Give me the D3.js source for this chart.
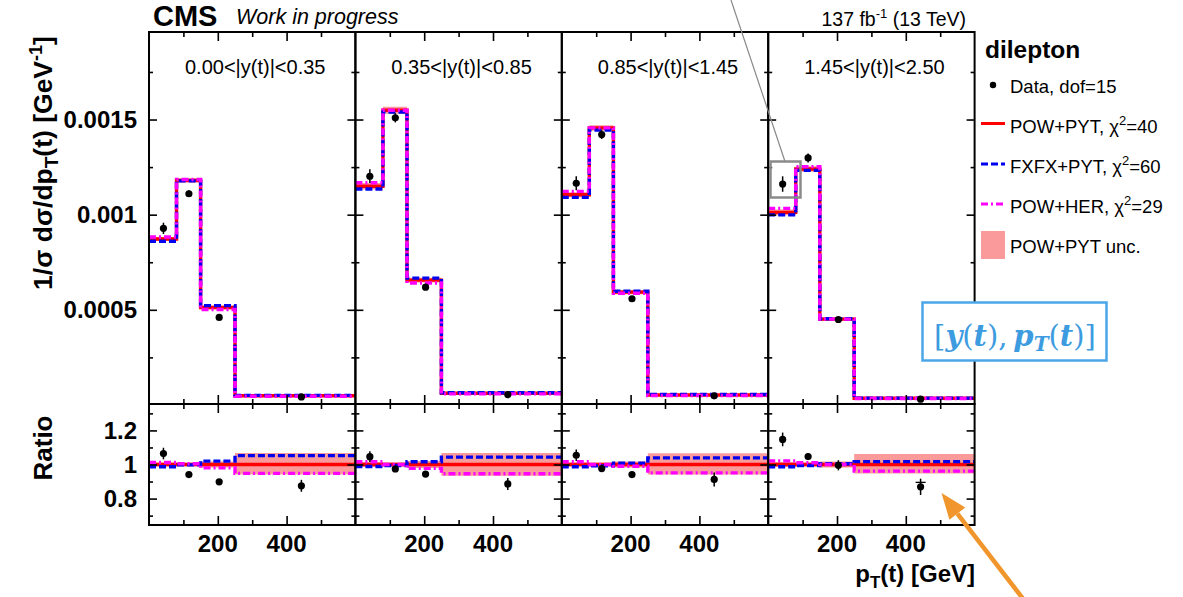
<!DOCTYPE html>
<html>
<head>
<meta charset="utf-8">
<script src="https://cdn.jsdelivr.net/npm/d3@7"></script>
<style>
  body { margin: 0; background: #fff; }
  svg { display: block; }
</style>
</head>
<body>
<svg id="chart" width="1183" height="597"></svg>
<script>
// --- Data ---
const binEdges = [0, 80, 150, 250, 600];
const dataPt = [42, 116, 204, 443];
const rapidityBins = ["0.00<|y(t)|<0.35", "0.35<|y(t)|<0.85", "0.85<|y(t)|<1.45", "1.45<|y(t)|<2.50"];

// POW+PYT prediction, 1/sigma dsigma/dpT [GeV^-1]
const powPyt = [
  [0.000872, 0.00118, 0.000512, 0.000048],
  [0.001149, 0.001549, 0.000656, 0.0000614],
  [0.001105, 0.001456, 0.000593, 0.0000526],
  [0.001012, 0.00124, 0.000451, 0.0000351]
];
// FXFX+PYT / POW+PYT
const fxfxRatio = [
  [0.987, 0.998, 1.02, 1.052],
  [0.988, 0.994, 1.016, 1.043],
  [0.987, 0.992, 1.008, 1.039],
  [0.987, 0.994, 1.004, 1.017]
];
// POW+HER / POW+PYT
const herRatio = [
  [1.012, 1.004, 0.98, 0.948],
  [1.016, 1.0, 0.977, 0.946],
  [1.016, 1.0, 0.99, 0.951],
  [1.021, 1.01, 1.0, 0.961]
];
// POW+PYT relative uncertainty (up / down)
const uncUp = [
  [0.012, 0.01, 0.018, 0.068],
  [0.015, 0.012, 0.02, 0.068],
  [0.012, 0.01, 0.018, 0.066],
  [0.015, 0.012, 0.018, 0.062]
];
const uncDown = [
  [0.012, 0.01, 0.018, 0.058],
  [0.015, 0.012, 0.02, 0.066],
  [0.012, 0.01, 0.018, 0.058],
  [0.015, 0.012, 0.018, 0.053]
];
// measured values and relative errors
const dataVals = [
  [0.000928, 0.00111, 0.00046, 0.000042],
  [0.001202, 0.001509, 0.000619, 0.0000544],
  [0.001165, 0.001421, 0.000558, 0.000048],
  [0.001161, 0.001298, 0.000449, 0.0000305]
];
const dataErr = [
  [0.032, 0.016, 0.015, 0.04],
  [0.03, 0.016, 0.015, 0.04],
  [0.032, 0.016, 0.015, 0.045],
  [0.035, 0.018, 0.03, 0.055]
];

const mainTicks = [0.0005, 0.001, 0.0015];
const mainMinor = [0.00025, 0.00075, 0.00125, 0.00175];
const ratioTicks = [0.8, 1, 1.2];
const ratioMinor = [0.7, 0.9, 1.1, 1.3];
const xTicks = [200, 400];
const xMinor = [100, 300, 500];

const legendItems = [
  { key: "data", label: "Data, dof=15" },
  { key: "pow", label: "POW+PYT, ", chi: "40" },
  { key: "fxfx", label: "FXFX+PYT, ", chi: "60" },
  { key: "her", label: "POW+HER, ", chi: "29" },
  { key: "unc", label: "POW+PYT unc." }
];

// --- Style ---
const FONT = "'Liberation Sans', Arial, Helvetica, sans-serif";
const RED = "#ff0000", BLUE = "#0000f0", MAG = "#ff00ff", BAND = "#fa9a9a";
const LW = 3.4;

const left0 = 149, pw = 206.4, topY = 32, midY = 404, botY = 525;
const hMain = midY - topY, hRatio = botY - midY;

const svg = d3.select("#chart");

const x = d3.scaleLinear().domain([0, 600]).range([0, pw]);
const yMain = d3.scaleLinear().domain([0.000005, 0.00196]).range([hMain, 0]);
const yRatio = d3.scaleLinear().domain([0.645, 1.355]).range([hRatio, 0]);

function stepPts(vals) {
  return binEdges.map((e, i) => [e, vals[Math.min(i, vals.length - 1)]]);
}

function drawTicks(g, w, h, xs, ys, ticksY, minorY) {
  // inward ticks on all four sides
  const tk = (axis, tr, vals, size) => {
    const a = g.append("g").attr("transform", tr)
      .call(axis.tickValues(vals).tickSizeInner(size).tickSizeOuter(0).tickFormat(""));
    a.select(".domain").remove();
    a.selectAll("line").attr("stroke", "#000").attr("stroke-width", 1.6);
  };
  tk(d3.axisBottom(xs), `translate(0,${h})`, xTicks, -9);
  tk(d3.axisBottom(xs), `translate(0,${h})`, xMinor, -5);
  tk(d3.axisTop(xs), "translate(0,0)", xTicks, -9);
  tk(d3.axisTop(xs), "translate(0,0)", xMinor, -5);
  tk(d3.axisLeft(ys), "translate(0,0)", ticksY, -8);
  tk(d3.axisLeft(ys), "translate(0,0)", minorY, -4);
  tk(d3.axisRight(ys), `translate(${w},0)`, ticksY, -8);
  tk(d3.axisRight(ys), `translate(${w},0)`, minorY, -4);
}

function drawCurves(g, ys, pow, fx, her, up, dn) {
  const line = d3.line().x(d => x(d[0])).y(d => ys(d[1])).curve(d3.curveStepAfter);
  const area = d3.area().x(d => x(d[0])).y0(d => ys(d[1])).y1(d => ys(d[2])).curve(d3.curveStepAfter);
  const bandPts = binEdges.map((e, i) => {
    const k = Math.min(i, pow.length - 1);
    return [e, pow[k] * (1 - dn[k]), pow[k] * (1 + up[k])];
  });
  g.append("path").attr("d", area(bandPts)).attr("fill", BAND).attr("stroke", "none");
  g.append("path").attr("d", line(stepPts(pow))).attr("fill", "none")
    .attr("stroke", RED).attr("stroke-width", LW);
  g.append("path").attr("d", line(stepPts(fx))).attr("fill", "none")
    .attr("stroke", BLUE).attr("stroke-width", LW).attr("stroke-dasharray", "7,3");
  g.append("path").attr("d", line(stepPts(her))).attr("fill", "none")
    .attr("stroke", MAG).attr("stroke-width", LW).attr("stroke-dasharray", "7,3,2,3");
}

function drawData(g, ys, vals, errs, capIdx) {
  vals.forEach((v, i) => {
    const cx = x(dataPt[i]), cy = ys(v);
    g.append("line").attr("x1", cx).attr("x2", cx)
      .attr("y1", ys(v * (1 - errs[i]))).attr("y2", ys(v * (1 + errs[i])))
      .attr("stroke", "#000").attr("stroke-width", 1.5);
    g.append("circle").attr("cx", cx).attr("cy", cy).attr("r", 3.6).attr("fill", "#000");
    if (capIdx === i) {
      const cy2 = ys(v * (1 + errs[i] * 0.55));
      g.append("line").attr("x1", cx - 5).attr("x2", cx + 5).attr("y1", cy2).attr("y2", cy2)
        .attr("stroke", "#000").attr("stroke-width", 1.3);
    }
  });
}

rapidityBins.forEach((label, p) => {
  const x0 = left0 + p * pw;
  const pow = powPyt[p];
  const fx = pow.map((v, i) => v * fxfxRatio[p][i]);
  const her = pow.map((v, i) => v * herRatio[p][i]);
  const ones = pow.map(() => 1);

  // main panel
  const gm = svg.append("g").attr("transform", `translate(${x0},${topY})`);
  drawCurves(gm, yMain, pow, fx, her, uncUp[p], uncDown[p]);
  drawData(gm, yMain, dataVals[p], dataErr[p], -1);
  drawTicks(gm, pw, hMain, x, yMain, mainTicks, mainMinor);
  gm.append("rect").attr("width", pw).attr("height", hMain)
    .attr("fill", "none").attr("stroke", "#000").attr("stroke-width", 2);
  gm.append("text").attr("x", pw / 2 + 3).attr("y", 73.5 - topY)
    .attr("text-anchor", "middle").attr("font-family", FONT).attr("font-size", 20)
    .text(label);

  // ratio panel
  const gr = svg.append("g").attr("transform", `translate(${x0},${midY})`);
  drawCurves(gr, yRatio, ones, fxfxRatio[p], herRatio[p], uncUp[p], uncDown[p]);
  const rData = dataVals[p].map((v, i) => v / pow[i]);
  drawData(gr, yRatio, rData, dataErr[p], p === 3 ? 3 : -1);
  drawTicks(gr, pw, hRatio, x, yRatio, ratioTicks, ratioMinor);
  gr.append("rect").attr("width", pw).attr("height", hRatio)
    .attr("fill", "none").attr("stroke", "#000").attr("stroke-width", 2);

  // x tick labels
  gr.selectAll("text.xl").data(xTicks).enter().append("text")
    .attr("x", d => x(d)).attr("y", 552 - midY)
    .attr("text-anchor", "middle").attr("font-family", FONT)
    .attr("font-weight", "bold").attr("font-size", 24).text(d => d);
});

// y tick labels
svg.append("g").selectAll("text").data(mainTicks).enter().append("text")
  .attr("x", 137).attr("y", d => topY + yMain(d)).attr("dy", "0.35em")
  .attr("text-anchor", "end").attr("font-family", FONT)
  .attr("font-weight", "bold").attr("font-size", 24).text(d => String(d));
svg.append("g").selectAll("text").data(ratioTicks).enter().append("text")
  .attr("x", 137).attr("y", d => midY + yRatio(d)).attr("dy", "0.35em")
  .attr("text-anchor", "end").attr("font-family", FONT)
  .attr("font-weight", "bold").attr("font-size", 24).text(d => String(d));

// axis titles
const yt = svg.append("text").attr("transform", "translate(52,163) rotate(-90)")
  .attr("text-anchor", "middle").attr("font-family", FONT)
  .attr("font-weight", "bold").attr("font-size", 26.5);
yt.append("tspan").text("1/\u03c3 d\u03c3/dp");
yt.append("tspan").attr("dy", 6).attr("font-size", 19).text("T");
yt.append("tspan").attr("dy", -6).text("(t) [GeV");
yt.append("tspan").attr("dy", -10).attr("font-size", 18).text("-1");
yt.append("tspan").attr("dy", 10).text("]");

svg.append("text").attr("transform", "translate(52,448) rotate(-90)")
  .attr("text-anchor", "middle").attr("font-family", FONT)
  .attr("font-weight", "bold").attr("font-size", 26).text("Ratio");

const xt = svg.append("text").attr("x", 975).attr("y", 582)
  .attr("text-anchor", "end").attr("font-family", FONT)
  .attr("font-weight", "bold").attr("font-size", 24);
xt.append("tspan").text("p");
xt.append("tspan").attr("dy", 6).attr("font-size", 17).text("T");
xt.append("tspan").attr("dy", -6).text("(t) [GeV]");

// header
svg.append("text").attr("x", 153).attr("y", 26).attr("font-family", FONT)
  .attr("font-weight", "bold").attr("font-size", 29).text("CMS");
svg.append("text").attr("x", 236).attr("y", 24).attr("font-family", FONT)
  .attr("font-style", "italic").attr("font-size", 21.5).text("Work in progress");
const lumi = svg.append("text").attr("x", 966).attr("y", 26).attr("text-anchor", "end")
  .attr("font-family", FONT).attr("font-size", 19.5);
lumi.append("tspan").text("137 fb");
lumi.append("tspan").attr("dy", -8).attr("font-size", 13).text("-1");
lumi.append("tspan").attr("dy", 8).text(" (13 TeV)");

// legend
svg.append("text").attr("x", 985).attr("y", 58).attr("font-family", FONT)
  .attr("font-weight", "bold").attr("font-size", 24.5).text("dilepton");
const legY = [92.5, 132.5, 173, 213, 253];
legendItems.forEach((item, i) => {
  const yb = legY[i];
  const ym = yb - 9;
  if (item.key === "data") {
    svg.append("circle").attr("cx", 993).attr("cy", 85).attr("r", 3.2).attr("fill", "#000");
  } else if (item.key === "unc") {
    svg.append("rect").attr("x", 981).attr("y", 231).attr("width", 24).attr("height", 28).attr("fill", BAND);
  } else {
    const col = { pow: RED, fxfx: BLUE, her: MAG }[item.key];
    const dash = { pow: null, fxfx: "7,3", her: "7,3,2,3" }[item.key];
    svg.append("line").attr("x1", 981).attr("x2", 1005).attr("y1", ym).attr("y2", ym)
      .attr("stroke", col).attr("stroke-width", 3).attr("stroke-dasharray", dash);
  }
  const t = svg.append("text").attr("x", 1010).attr("y", yb).attr("font-family", FONT).attr("font-size", 18.5);
  t.append("tspan").text(item.label);
  if (item.chi) {
    t.append("tspan").text("\u03c7");
    t.append("tspan").attr("dy", -8).attr("font-size", 13).text("2");
    t.append("tspan").attr("dy", 8).text("=" + item.chi);
  }
});

// annotations: grey zoom box + pointer line
svg.append("line").attr("x1", 731).attr("y1", 0).attr("x2", 785).attr("y2", 161.5)
  .attr("stroke", "#888").attr("stroke-width", 1.2);
svg.append("rect").attr("x", 770.5).attr("y", 161.5).attr("width", 30).attr("height", 36)
  .attr("fill", "none").attr("stroke", "#8a8a8a").attr("stroke-width", 2.5);

// blue label box
svg.append("rect").attr("x", 922.5).attr("y", 302.5).attr("width", 184).attr("height", 58)
  .attr("fill", "#fff").attr("stroke", "#4aa6e8").attr("stroke-width", 2.5);
const lab = svg.append("text").attr("x", 1015).attr("y", 346).attr("text-anchor", "middle")
  .attr("font-family", "'DejaVu Serif', 'Liberation Serif', serif").attr("font-size", 29)
  .attr("fill", "#3d9be0");
[["[", 0], ["y", 1], ["(", 0], ["t", 1], ["),", 0], ["\u2009", 0], ["p", 1], ["T", 2], ["(", 0], ["t", 1], [")]", 0]]
  .forEach(([s, k], i, arr) => {
    const ts = lab.append("tspan").text(s);
    if (k >= 1) ts.attr("font-weight", "bold").attr("font-style", "italic");
    if (k === 2) ts.attr("font-size", 20).attr("dy", 5);
    if (i > 0 && arr[i - 1][1] === 2) ts.attr("dy", -5);
  });

// orange arrow
const tip = [941.5, 493], tail = [1024, 600];
const ang = Math.atan2(tail[1] - tip[1], tail[0] - tip[0]);
const hl = 26, hw = 10;
const base = [tip[0] + hl * Math.cos(ang), tip[1] + hl * Math.sin(ang)];
svg.append("line").attr("x1", base[0]).attr("y1", base[1]).attr("x2", tail[0]).attr("y2", tail[1])
  .attr("stroke", "#f0962c").attr("stroke-width", 4.5);
svg.append("path").attr("d", d3.line()([
  tip,
  [base[0] + hw * Math.sin(ang), base[1] - hw * Math.cos(ang)],
  [base[0] - hw * Math.sin(ang), base[1] + hw * Math.cos(ang)]
]) + "Z").attr("fill", "#f0962c");
</script>
</body>
</html>
